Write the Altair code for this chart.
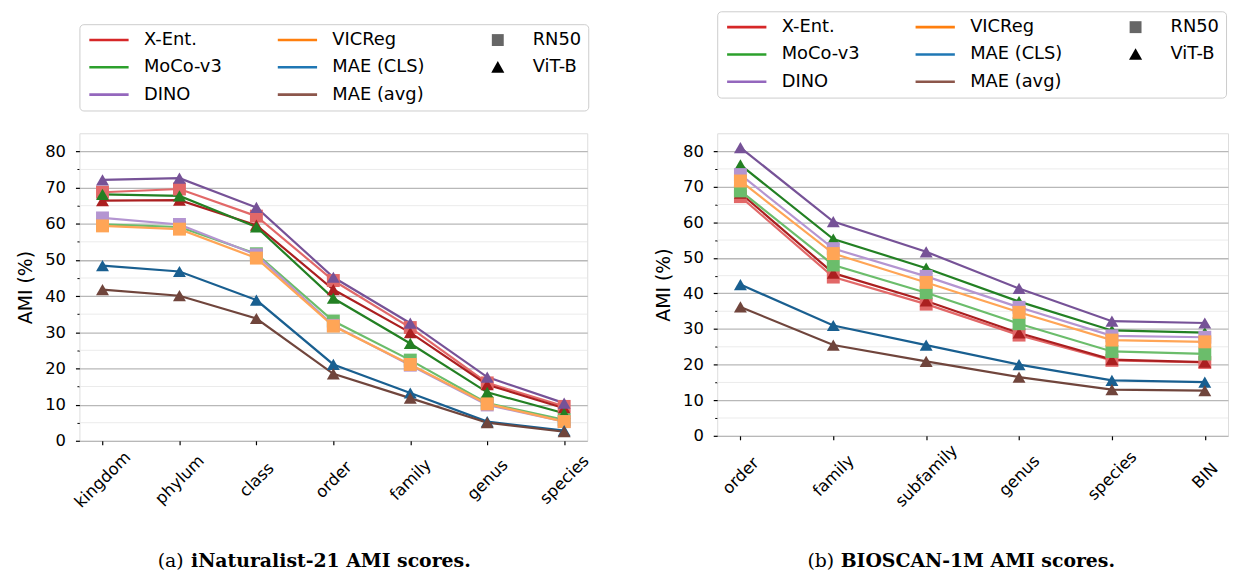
import altair as alt
import pandas as pd

# ---------------- data ----------------
inat_levels = ["kingdom", "phylum", "class", "order", "family", "genus", "species"]
bioscan_levels = ["order", "family", "subfamily", "genus", "species", "BIN"]

methods = ["X-Ent.", "X-Ent.", "MoCo-v3", "MoCo-v3", "DINO", "DINO", "VICReg", "MAE (CLS)", "MAE (avg)"]
backbones = ["RN50", "ViT-B", "RN50", "ViT-B", "RN50", "ViT-B", "RN50", "ViT-B", "ViT-B"]
series_colors = ["#e26868", "#ab1f20", "#6bbd6b", "#238023", "#b495d1",
                 "#765297", "#ffa556", "#195f90", "#70453c"]

# iNaturalist-21
inat_xent_rn50 = [68.7, 69.6, 62.1, 44.3, 31.3, 16.0, 9.5]
inat_xent_vit = [66.4, 66.5, 59.6, 41.8, 29.9, 15.5, 9.0]
inat_moco_rn50 = [59.8, 59.1, 51.7, 33.1, 22.3, 10.4, 5.8]
inat_moco_vit = [68.1, 67.7, 59.1, 39.4, 26.9, 13.4, 7.6]
inat_dino_rn50 = [61.6, 59.8, 51.4, 31.9, 20.9, 9.9, 5.3]
inat_dino_vit = [72.1, 72.6, 64.5, 45.2, 32.5, 17.6, 10.4]
inat_vicreg_rn50 = [59.4, 58.5, 50.5, 31.7, 21.1, 10.2, 5.3]
inat_mae_cls = [48.4, 46.8, 38.9, 21.1, 13.2, 5.3, 2.8]
inat_mae_avg = [41.8, 40.1, 33.8, 18.5, 11.8, 5.0, 2.5]

# BIOSCAN-1M
bio_xent_rn50 = [67.2, 44.6, 37.0, 28.3, 21.2, 20.6]
bio_xent_vit = [68.2, 45.7, 37.9, 28.9, 21.4, 20.7]
bio_moco_rn50 = [68.8, 48.0, 40.2, 31.5, 23.7, 23.0]
bio_moco_vit = [76.1, 55.3, 47.1, 37.7, 29.6, 29.0]
bio_dino_rn50 = [73.4, 52.6, 44.8, 36.1, 28.1, 27.7]
bio_dino_vit = [81.0, 60.2, 51.7, 41.4, 32.2, 31.7]
bio_vicreg_rn50 = [71.6, 51.2, 43.1, 34.7, 26.9, 26.4]
bio_mae_cls = [42.5, 31.0, 25.5, 20.0, 15.6, 15.1]
bio_mae_avg = [36.2, 25.5, 20.9, 16.5, 13.0, 12.7]

inat_series = [inat_xent_rn50, inat_xent_vit, inat_moco_rn50, inat_moco_vit, inat_dino_rn50,
               inat_dino_vit, inat_vicreg_rn50, inat_mae_cls, inat_mae_avg]
bio_series = [bio_xent_rn50, bio_xent_vit, bio_moco_rn50, bio_moco_vit, bio_dino_rn50,
              bio_dino_vit, bio_vicreg_rn50, bio_mae_cls, bio_mae_avg]

major_ticks = [0, 10, 20, 30, 40, 50, 60, 70, 80]
minor_ticks = [5, 15, 25, 35, 45, 55, 65, 75]

# legend entries (filled column by column, 3 columns)
legend_entries = ["X-Ent.", "MoCo-v3", "DINO", "VICReg", "MAE (CLS)", "MAE (avg)", "RN50", "ViT-B"]
legend_colors = ["#d62728", "#2ca02c", "#9467bd", "#ff7f0e", "#1f77b4", "#8c564b", "#666666", "#000000"]
marker_entries = ["RN50", "ViT-B"]

# ---------------- styles ----------------
FONT = "DejaVu Sans"
SERIF = "DejaVu Serif"
TICK_FS = 16.5

SQUARE_PATH = "M1.3,-1L3.3,-1L3.3,1L1.3,1Z"
TRI_PATH = "M2.3,-1.05L3.4,0.9L1.2,0.9Z"
LINE_PATH = "M-1,0L5.6,0"

shape_expr = (f"datum.value === 'RN50' ? '{SQUARE_PATH}' : "
              f"datum.value === 'ViT-B' ? '{TRI_PATH}' : '{LINE_PATH}'")
stroke_parts = [f"datum.value === '{e}' ? '{c}'"
                for e, c in zip(legend_entries, legend_colors) if e not in marker_entries]
stroke_expr = " : ".join(stroke_parts) + " : 'transparent'"
sw_expr = "datum.value === 'RN50' || datum.value === 'ViT-B' ? 0 : 2.6"
legend_fill = [c if e in marker_entries else "transparent"
               for e, c in zip(legend_entries, legend_colors)]


def make_panel(levels, series_values, x_pad, width, height, legend_y, x_label_pad,
               caption_bold, caption_tag, caption_x, caption_y, tag_dx, tag_dy):
    rows = []
    for m, b, vals in zip(methods, backbones, series_values):
        for lvl, v in zip(levels, vals):
            rows.append({"level": lvl, "value": v, "series": f"{m} {b}", "backbone": b})
    df = pd.DataFrame(rows)
    series_keys = [f"{m} {b}" for m, b in zip(methods, backbones)]

    y_scale = alt.Scale(domain=[0, 85], nice=False)
    x_axis = alt.Axis(
        orient="bottom", labelAngle=-45, labelAlign="center", labelBaseline="middle",
        labelPadding=x_label_pad, labelFont=FONT, labelFontSize=TICK_FS, labelColor="black",
        labelOverlap=False, tickSize=4, tickWidth=1.2, tickColor="black", grid=False,
        domain=False, title=caption_bold, titleFont=SERIF, titleFontSize=19,
        titleFontWeight="bold", titleColor="black", titleX=caption_x, titleY=caption_y,
        titleAlign="left", titleBaseline="alphabetic", titleAngle=0,
    )
    x_enc = alt.X("level:N", sort=levels,
                  scale=alt.Scale(type="point", domain=levels, padding=x_pad), axis=x_axis)
    major_axis = alt.Axis(
        orient="left", values=major_ticks, grid=True, gridColor="#b8b8b8", gridWidth=1.3,
        tickSize=4, tickWidth=1.2, tickColor="black", domain=False,
        labelFont=FONT, labelFontSize=TICK_FS, labelColor="black", labelPadding=10,
        title="AMI (%)", titleFont=FONT, titleFontSize=19, titleFontWeight="normal",
        titleColor="black", titlePadding=9,
    )
    minor_axis = alt.Axis(
        orient="left", values=minor_ticks, grid=False, labels=False, tickSize=2.5,
        tickWidth=1, tickColor="black", domain=False, title=None,
    )
    color_scale = alt.Scale(domain=series_keys, range=series_colors)

    minor = alt.Chart(pd.DataFrame({"v": minor_ticks})).mark_rule(
        color="#ebebeb", strokeWidth=1
    ).encode(y=alt.Y("v:Q", scale=y_scale, axis=minor_axis))

    lines = alt.Chart(df).mark_line(strokeWidth=2.2).encode(
        x=x_enc,
        y=alt.Y("value:Q", scale=y_scale, axis=major_axis),
        color=alt.Color("series:N", scale=color_scale, legend=None),
    )
    points = alt.Chart(df).mark_point(filled=True, size=170, opacity=1).encode(
        x=x_enc,
        y=alt.Y("value:Q", scale=y_scale, axis=None),
        color=alt.Color("series:N", scale=color_scale, legend=None),
        shape=alt.Shape("backbone:N",
                        scale=alt.Scale(domain=["RN50", "ViT-B"], range=["square", "triangle-up"]),
                        legend=None),
    )
    legend = alt.Legend(
        title=None, orient="none", legendX=0, legendY=legend_y, columns=3,
        columnPadding=50, rowPadding=9.5, padding=7, strokeColor="#cccccc",
        cornerRadius=4, fillColor="white", labelFont=FONT, labelFontSize=18,
        labelColor="black", labelOffset=40, symbolSize=144, gridAlign="each",
        symbolType=alt.ExprRef(shape_expr),
        symbolStrokeColor=alt.ExprRef(stroke_expr),
        symbolStrokeWidth=alt.ExprRef(sw_expr),
        symbolOpacity=1,
    )
    key = alt.Chart(pd.DataFrame({"entry": legend_entries})).mark_point(
        filled=True, opacity=0
    ).encode(
        color=alt.Color("entry:N", scale=alt.Scale(domain=legend_entries, range=legend_fill),
                        legend=legend)
    )
    return alt.layer(minor, lines, points, key).resolve_scale(
        color="independent", shape="independent"
    ).resolve_axis(y="independent").properties(
        width=width, height=height,
        title=alt.TitleParams(text=caption_tag, orient="bottom", anchor="start", frame="group",
                              font=SERIF, fontSize=19, fontWeight="normal", color="black",
                              offset=0, dx=tag_dx, dy=tag_dy, baseline="alphabetic"),
    )


left = make_panel(inat_levels, inat_series, 0.3, 512, 310, -110, 35,
                  "iNaturalist-21 AMI scores.", "(a)", 112, 127, 79, -4)
right = make_panel(bioscan_levels, bio_series, 0.25, 515, 305, -123, 36,
                   "BIOSCAN-1M AMI scores.", "(b)", 124, 132, 91, -4)

chart = alt.hconcat(left, right, spacing=61).properties(
    padding={"left": 8, "top": 0, "right": 1, "bottom": 0}
).configure_view(stroke="black", strokeWidth=1.2).configure(
    background="white", font=FONT
)

chart.save("out.html", embed_options={"renderer": "svg", "actions": False})
